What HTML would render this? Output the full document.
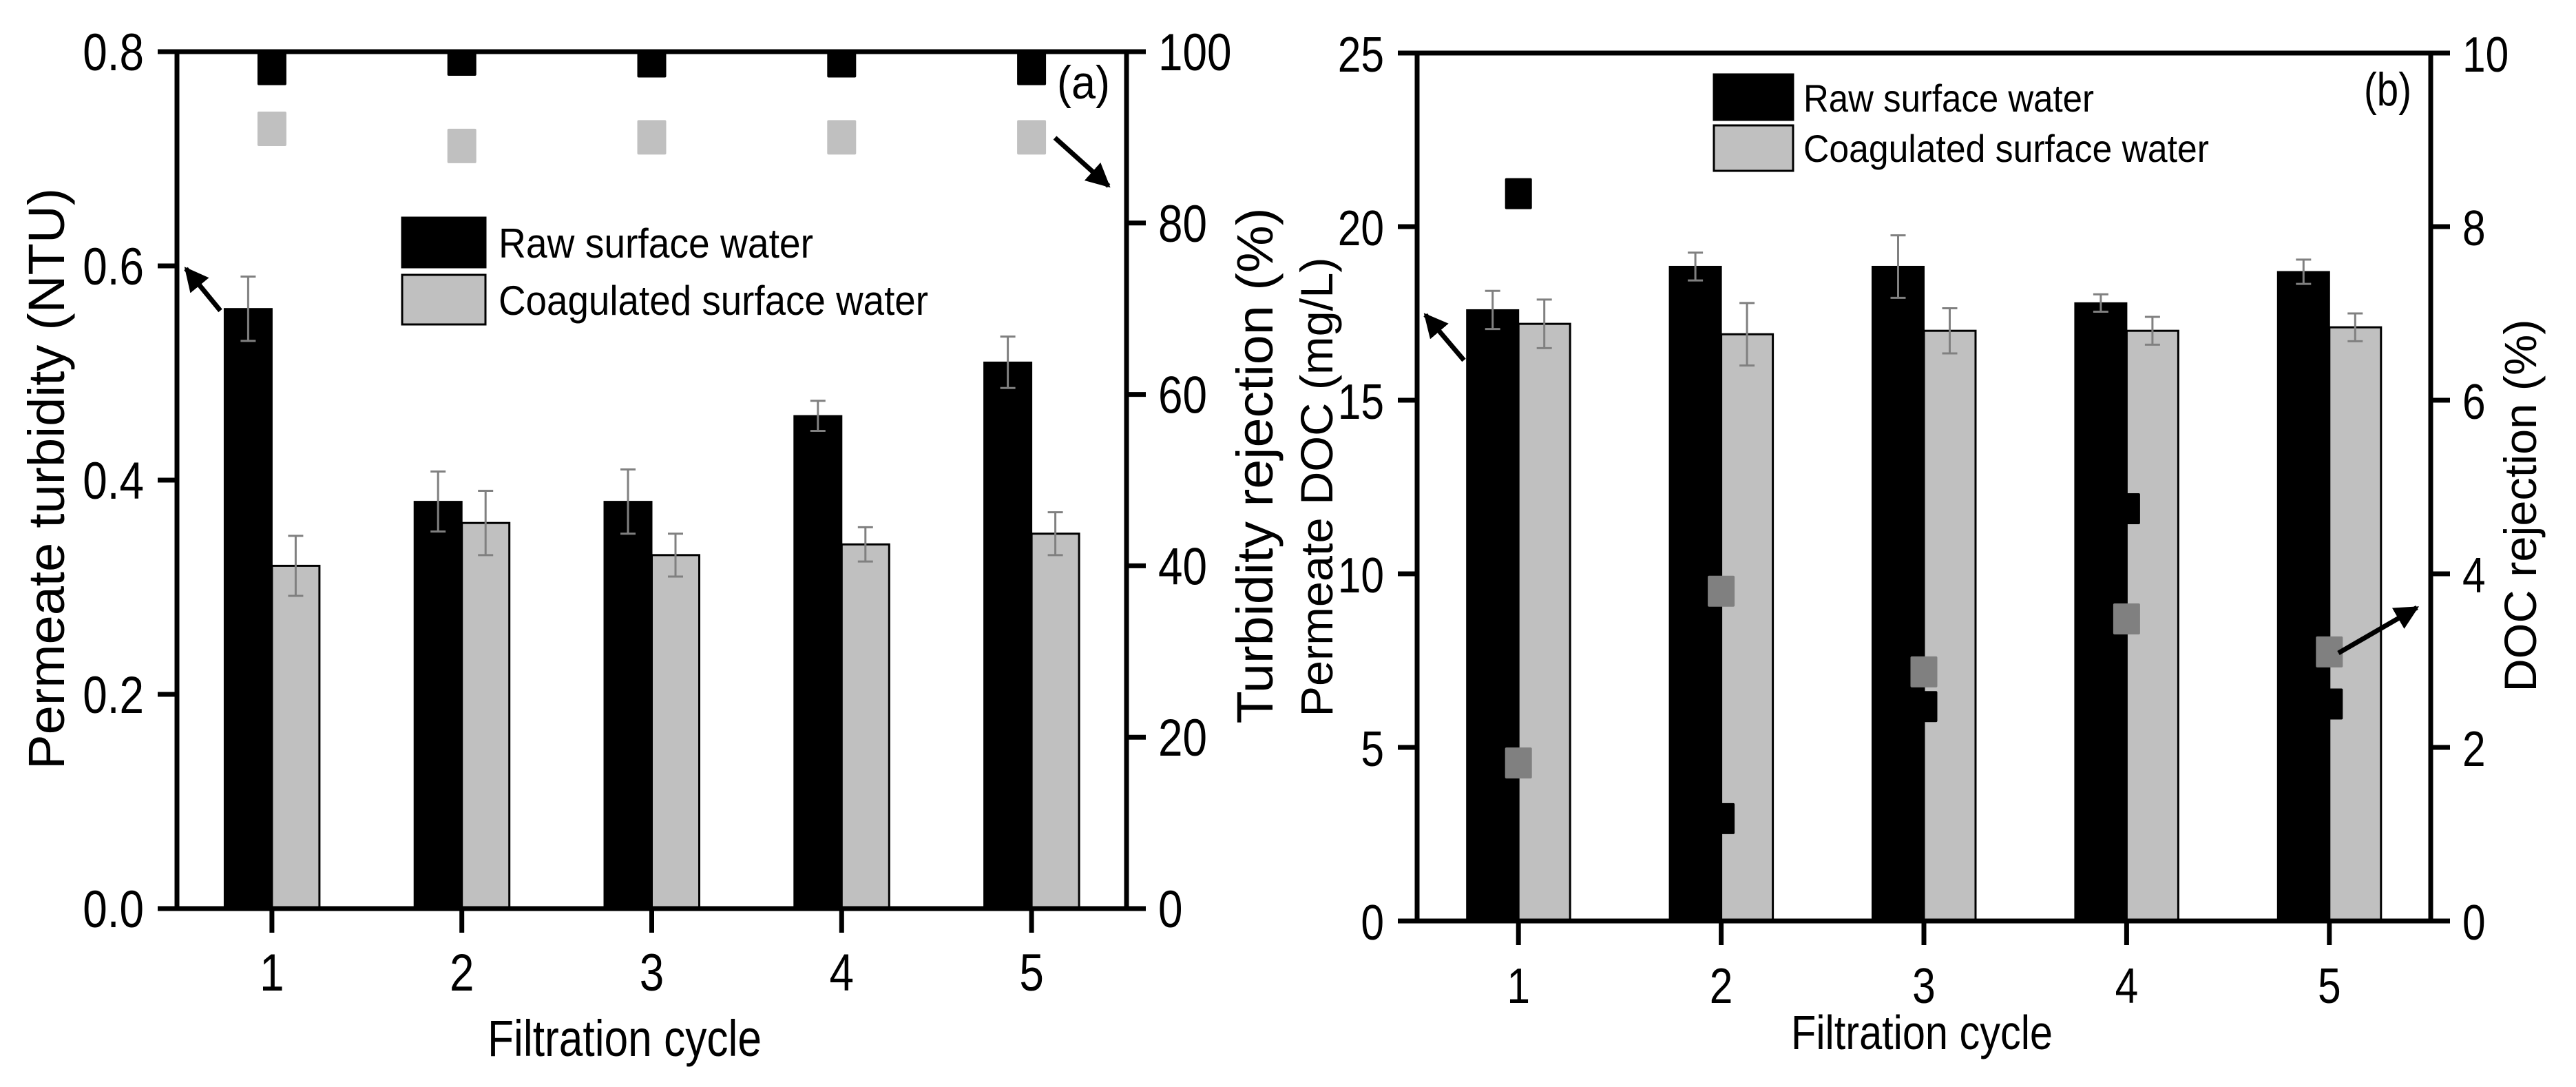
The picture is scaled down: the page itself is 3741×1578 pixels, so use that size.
<!DOCTYPE html>
<html><head><meta charset="utf-8"><style>
html,body{margin:0;padding:0;background:#fff;}
svg{display:block;font-family:"Liberation Sans",Arial,sans-serif;}
</style></head><body>
<svg id="fig" width="3741" height="1578" viewBox="0 0 3741 1578" xmlns="http://www.w3.org/2000/svg">
<defs>
<clipPath id="clipA"><rect x="257" y="75" width="1379" height="1244"/></clipPath>
<clipPath id="clipB"><rect x="2058" y="77" width="1472" height="1260"/></clipPath>
<marker id="ah" viewBox="0 0 10 10" refX="9" refY="5" markerWidth="5" markerHeight="5" orient="auto-start-reverse" markerUnits="strokeWidth"><path d="M0,0 L10,5 L0,10 z" fill="#000"/></marker>
</defs>
</svg>
<script>
// ---- Panel (a) data ----
const cyclesA = [1,2,3,4,5];
const rawTurb = [0.56,0.38,0.38,0.46,0.51];
const rawTurbErr = [0.03,0.028,0.03,0.014,0.024];
const coagTurb = [0.32,0.36,0.33,0.34,0.35];
const coagTurbErr = [0.028,0.03,0.02,0.016,0.02];
const rawTurbRej = [98.1,99.2,99.0,99.0,98.1];
const coagTurbRej = [91.0,89.0,90.0,90.0,90.0];
const leftTicksA = ["0.0","0.2","0.4","0.6","0.8"];
const rightTicksA = ["0","20","40","60","80","100"];
// ---- Panel (b) data ----
const cyclesB = [1,2,3,4,5];
const rawDOC = [17.6,18.85,18.85,17.8,18.7];
const rawDOCErr = [0.55,0.4,0.9,0.25,0.35];
const coagDOC = [17.2,16.9,17.0,17.0,17.1];
const coagDOCErr = [0.7,0.9,0.65,0.4,0.4];
const rawDOCRej = [8.38,1.18,2.47,4.75,2.5];
const coagDOCRej = [1.82,3.8,2.87,3.48,3.1];
const leftTicksB = ["0","5","10","15","20","25"];
const rightTicksB = ["0","2","4","6","8","10"];

const NS="http://www.w3.org/2000/svg";
const svg=document.getElementById('fig');
function el(tag,attrs,parent){const e=document.createElementNS(NS,tag);for(const k in attrs)e.setAttribute(k,attrs[k]);(parent||svg).appendChild(e);return e;}
function txt(s,x,y,size,anchor,parent,sx){const g=el('g',{transform:`translate(${x},${y}) scale(${sx||0.84},1)`},parent);const t=el('text',{x:0,y:0,'font-size':size,'text-anchor':anchor||'start',fill:'#000'},g);t.textContent=s;return g;}

function panel(P){
  const g=el('g',{});
  
  
  const X=v=>P.L+(v-0.5)*(P.R-P.L)/5;
  const YL=v=>P.B-(v-P.lmin)/(P.lmax-P.lmin)*(P.B-P.T);
  const YR=v=>P.B-v/P.rmax*(P.B-P.T);
  const bars=el('g',{},g);
  P.raw.forEach((v,i)=>{
    const r=el('rect',{x:X(P.cats[i])-P.bw,y:YL(v),width:P.bw,height:P.B-YL(v),fill:'#000',stroke:'#000','stroke-width':2},bars);
    
    
  });
  P.coag.forEach((v,i)=>{
    const r=el('rect',{x:X(P.cats[i]),y:YL(v),width:P.bw,height:P.B-YL(v),fill:'#c0c0c0',stroke:'#000','stroke-width':3},bars);
    
    
  });
  const errs=[[P.raw,P.rawErr,-0.5],[P.coag,P.coagErr,0.5]];
  errs.forEach(([vals,es,off],s)=>{
    vals.forEach((v,i)=>{
      const cx=X(P.cats[i])+off*P.bw;
      const y1=YL(v+es[i]),y2=YL(v-es[i]);
      const e=el('path',{d:`M${cx},${y1}V${y2}M${cx-11},${y1}H${cx+11}M${cx-11},${y2}H${cx+11}`,stroke:'#808080','stroke-width':3,fill:'none'},g);
      
      
    });
  });
  const sq=el('g',{'clip-path':`url(#${P.clip})`},g);
  P.rawRej.forEach((v,i)=>{
    const r=el('rect',{x:X(P.cats[i])-P.sw/2,y:YR(v)-P.sh/2,width:P.sw,height:P.sh,rx:2,fill:'#000'},sq);
    
    
  });
  P.coagRej.forEach((v,i)=>{
    const r=el('rect',{x:X(P.cats[i])-P.sw/2,y:YR(v)-P.sh/2,width:P.sw,height:P.sh,rx:2,fill:P.sqGray},sq);
    
    
  });
  const ax=el('g',{stroke:'#000','stroke-width':7,fill:'none'},g);
  el('path',{d:`M${P.L},${P.T}V${P.B}H${P.R}V${P.T}H${P.L}`},ax);
  P.lticks.forEach((s)=>{
    const v=parseFloat(s),y=YL(v);
    el('line',{x1:P.L-28,x2:P.L,y1:y,y2:y},ax);
    const t=txt(s,P.L-48,y+27,P.tfs,'end',g);
    
    
  });
  P.rticks.forEach((s)=>{
    const v=parseFloat(s),y=YR(v);
    el('line',{x1:P.R,x2:P.R+28,y1:y,y2:y},ax);
    const t=txt(s,P.R+46,y+27,P.tfs,'start',g);
    
    
  });
  P.cats.forEach(c=>{
    const x=X(c);
    el('line',{x1:x,x2:x,y1:P.B,y2:P.B+35},ax);
    const t=txt(String(c),x,P.B+119,P.tfs,'middle',g);
    
    
  });
  return {g,X,YL,YR};
}

const A=panel({name:'panel-a',L:257,R:1636,T:75,B:1319,lmin:0,lmax:0.8,rmax:100,cats:cyclesA,
  raw:rawTurb,rawErr:rawTurbErr,coag:coagTurb,coagErr:coagTurbErr,rawRej:rawTurbRej,coagRej:coagTurbRej,
  lticks:leftTicksA,rticks:rightTicksA,bw:69,sw:42,sh:50,sqGray:'#c0c0c0',clip:'clipA',tfs:76});
const B=panel({name:'panel-b',L:2058,R:3530,T:77,B:1337,lmin:0,lmax:25,rmax:10,cats:cyclesB,
  raw:rawDOC,rawErr:rawDOCErr,coag:coagDOC,coagErr:coagDOCErr,rawRej:rawDOCRej,coagRej:coagDOCRej,
  lticks:leftTicksB,rticks:rightTicksB,bw:75,sw:39,sh:45,sqGray:'#808080',clip:'clipB',tfs:72});

function vtitle(s,cx,cy,len,size,name){
  const t=el('text',{x:0,y:0,'font-size':size,'text-anchor':'middle',transform:`translate(${cx},${cy}) rotate(-90)`,textLength:len,lengthAdjust:'spacingAndGlyphs',fill:'#000'});
  t.textContent=s;
  
  
}
vtitle('Permeate turbidity (NTU)',93,695,844,74,'y-left-title-a');
vtitle('Turbidity rejection (%)',1848,676,749,74,'y-right-title-a');
vtitle('Permeate DOC (mg/L)',1935,707,667,66,'y-left-title-b');
vtitle('DOC rejection (%)',3683,734,541,66,'y-right-title-b');
function htitle(s,cx,y,len,size,name){
  const t=el('text',{x:cx,y:y,'font-size':size,'text-anchor':'middle',textLength:len,lengthAdjust:'spacingAndGlyphs',fill:'#000'});
  t.textContent=s;
  
  
}
htitle('Filtration cycle',907,1533,398,74,'x-title-a');
htitle('Filtration cycle',2791,1523,380,70,'x-title-b');

const la=el('text',{x:1535,y:143,'font-size':68,fill:'#000',textLength:77,lengthAdjust:'spacingAndGlyphs'});la.textContent='(a)';


const lb=el('text',{x:3433,y:153,'font-size':68,fill:'#000',textLength:69,lengthAdjust:'spacingAndGlyphs'});lb.textContent='(b)';



function legend(x,y1,y2,w,h,tx,fs,tl1,tl2,b1,b2,name){
  const g=el('g',{});
  
  
  const r1=el('rect',{x:x,y:y1,width:w,height:h,fill:'#000',stroke:'#000','stroke-width':3},g);
  
  
  const r2=el('rect',{x:x,y:y2,width:w,height:h,fill:'#c0c0c0',stroke:'#000','stroke-width':3},g);
  
  
  const t1=el('text',{x:tx,y:b1,'font-size':fs,fill:'#000',textLength:tl1,lengthAdjust:'spacingAndGlyphs'},g);t1.textContent='Raw surface water';
  
  
  const t2=el('text',{x:tx,y:b2,'font-size':fs,fill:'#000',textLength:tl2,lengthAdjust:'spacingAndGlyphs'},g);t2.textContent='Coagulated surface water';
  
  
}
legend(584,316,399,121,72,724,60,457,624,374,457,'legend-a');
legend(2489,108,182,115,66,2619,56,422,589,162,235,'legend-b');

function arrow(x1,y1,x2,y2,name){
  const a=el('line',{x1:x1,y1:y1,x2:x2,y2:y2,stroke:'#000','stroke-width':7,'marker-end':'url(#ah)'});
  
  
}
arrow(320,451,270,390,'arrow-left-axis-a');
arrow(1532,200,1610,270,'arrow-right-axis-a');
arrow(2126,523,2070,457,'arrow-left-axis-b');
arrow(3396,948,3510,882,'arrow-right-axis-b');
</script>
</body></html>
